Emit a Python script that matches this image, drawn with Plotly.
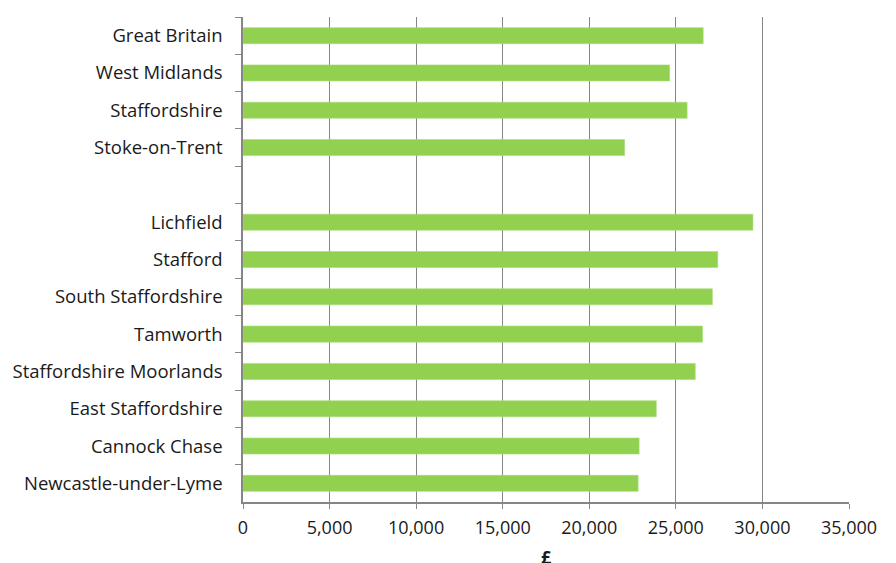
import plotly.graph_objects as go

# Area names, top to bottom; the blank entry separates the comparators from the districts
areas = [
    "Great Britain", "West Midlands", "Staffordshire", "Stoke-on-Trent", " ",
    "Lichfield", "Stafford", "South Staffordshire", "Tamworth",
    "Staffordshire Moorlands", "East Staffordshire", "Cannock Chase",
    "Newcastle-under-Lyme",
]
# Earnings in £
earnings = [
    26580, 24640, 25650, 22040, None,
    29450, 27420, 27110, 26540,
    26120, 23870, 22880, 22820,
]
x_ticks = [0, 5000, 10000, 15000, 20000, 25000, 30000, 35000]
x_tick_text = ["0", "5,000", "10,000", "15,000", "20,000", "25,000", "30,000", "35,000"]
x_title = "£"

axis_grey = "#868686"

fig = go.Figure(
    go.Bar(
        y=areas,
        x=earnings,
        orientation="h",
        width=0.43,
        marker=dict(color="#92D050", line=dict(color="#A9DC78", width=0.6)),
        hoverinfo="x+y",
    )
)

fig.update_layout(
    width=896,
    height=563,
    margin=dict(l=243, r=47, t=17, b=61),
    paper_bgcolor="white",
    plot_bgcolor="white",
    showlegend=False,
    font=dict(family="Open Sans, sans-serif", size=18, color="#1a1a1a"),
)

# Axis title sits low, near the bottom edge of the page
fig.add_annotation(
    text=f"<b>{x_title}</b>",
    xref="paper", yref="paper",
    x=0.5, y=0,
    xanchor="center", yanchor="top",
    yshift=-41,
    showarrow=False,
    font=dict(size=18),
)

fig.update_xaxes(
    range=[0, 35000],
    tickvals=x_ticks,
    ticktext=x_tick_text,
    showgrid=True,
    gridcolor=axis_grey,
    gridwidth=1.3,
    showline=True,
    linecolor=axis_grey,
    linewidth=1.5,
    ticks="outside",
    ticklen=5,
    tickcolor=axis_grey,
    tickfont=dict(size=18),
    ticklabelstandoff=4,
    zeroline=False,
    automargin=False,
)

fig.update_yaxes(
    type="category",
    categoryorder="array",
    categoryarray=areas,
    autorange="reversed",
    showline=True,
    linecolor=axis_grey,
    linewidth=1.5,
    ticks="outside",
    tickson="boundaries",
    ticklen=6,
    tickcolor=axis_grey,
    tickfont=dict(size=18.5),
    showgrid=False,
    automargin=False,
    ticklabelstandoff=15,
)

fig.write_html("out.html")
